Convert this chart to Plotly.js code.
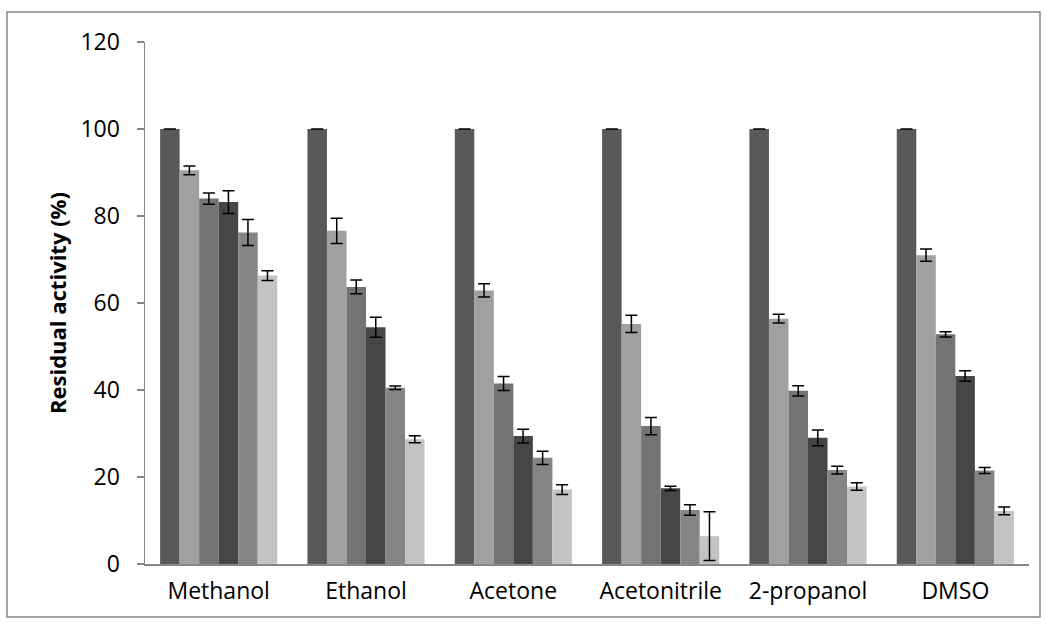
<!DOCTYPE html>
<html>
<head>
<meta charset="utf-8">
<script src="https://cdn.plot.ly/plotly-3.0.1.min.js"></script>
<style>
  html, body { margin: 0; padding: 0; background: #fff; }
  #chart { width: 1047px; height: 624px; }
</style>
</head>
<body>
<div id="chart"></div>
<script>
// Categories (solvents)
const solvents = ["Methanol", "Ethanol", "Acetone", "Acetonitrile", "2-propanol", "DMSO"];

// Six series (bars within each group, left to right)
const s1 = [100, 100, 100, 100, 100, 100];
const s1err = [0, 0, 0, 0, 0, 0];
const s2 = [90.5, 76.6, 62.9, 55.2, 56.4, 71.0];
const s2err = [1.0, 2.9, 1.5, 2.0, 1.0, 1.4];
const s3 = [84.0, 63.7, 41.5, 31.7, 39.8, 52.8];
const s3err = [1.3, 1.6, 1.6, 2.0, 1.2, 0.6];
const s4 = [83.2, 54.4, 29.4, 17.4, 29.0, 43.2];
const s4err = [2.6, 2.3, 1.6, 0.5, 1.8, 1.2];
const s5 = [76.2, 40.5, 24.4, 12.4, 21.6, 21.5];
const s5err = [3.0, 0.4, 1.5, 1.2, 0.9, 0.7];
const s6 = [66.3, 28.7, 17.1, 6.4, 17.8, 12.2];
const s6err = [1.1, 0.8, 1.1, 5.6, 0.85, 0.9];

const seriesVals = [s1, s2, s3, s4, s5, s6];
const seriesErr = [s1err, s2err, s3err, s4err, s5err, s6err];
const seriesColors = ["#595959", "#a0a0a0", "#737373", "#464646", "#858585", "#c3c3c3"];

const traces = seriesVals.map((vals, i) => ({
  type: "bar",
  x: solvents,
  y: vals,
  marker: { color: seriesColors[i], line: { width: 0 } },
  error_y: { type: "data", array: seriesErr[i], visible: true, color: "#000000", thickness: 1.5, width: 6 },
  showlegend: false,
  hoverinfo: "x+y"
}));

const L = 145, R = 18, T = 42, B = 60;
const W = 1047, H = 624;
const pw = W - L - R, ph = H - T - B;
function px2x(p) { return (p - L) / pw; }
function py2y(p) { return (H - B - p) / ph; }

const layout = {
  width: W,
  height: H,
  margin: { l: L, r: R, t: T, b: B, pad: 0 },
  paper_bgcolor: "#ffffff",
  plot_bgcolor: "#ffffff",
  barmode: "group",
  bargap: 0.205,
  bargroupgap: 0,
  font: { family: "Open Sans, sans-serif", color: "#000000" },
  xaxis: {
    type: "category",
    showline: true,
    linecolor: "#868686",
    linewidth: 1.5,
    ticks: "",
    showgrid: false,
    zeroline: false,
    tickfont: { size: 23, family: "Open Sans, sans-serif", color: "#000" },
    ticklabelstandoff: 6,
    fixedrange: true
  },
  yaxis: {
    range: [0, 120],
    tickvals: [0, 20, 40, 60, 80, 100, 120],
    ticktext: ["0", "20", "40", "60", "80", "100", "120"],
    showline: true,
    linecolor: "#868686",
    linewidth: 1.5,
    ticks: "outside",
    ticklen: 7,
    tickwidth: 1.5,
    tickcolor: "#868686",
    showgrid: false,
    zeroline: false,
    tickfont: { size: 23, family: "Open Sans, sans-serif", color: "#000" },
    ticklabelstandoff: 12,
    fixedrange: true
  },
  annotations: [{
    text: "<b>Residual activity (%)</b>",
    xref: "paper", yref: "paper",
    x: px2x(57), y: 0.5,
    xanchor: "center", yanchor: "middle",
    textangle: -90,
    showarrow: false,
    font: { size: 22, family: "Open Sans, sans-serif", color: "#000" }
  }],
  shapes: [{
    type: "rect",
    xref: "paper", yref: "paper",
    x0: px2x(7), x1: px2x(1040),
    y0: py2y(617), y1: py2y(12),
    line: { color: "#868686", width: 1.5 },
    fillcolor: "rgba(0,0,0,0)",
    layer: "below"
  }]
};

Plotly.newPlot("chart", traces, layout, { displayModeBar: false, staticPlot: true });
</script>
</body>
</html>
